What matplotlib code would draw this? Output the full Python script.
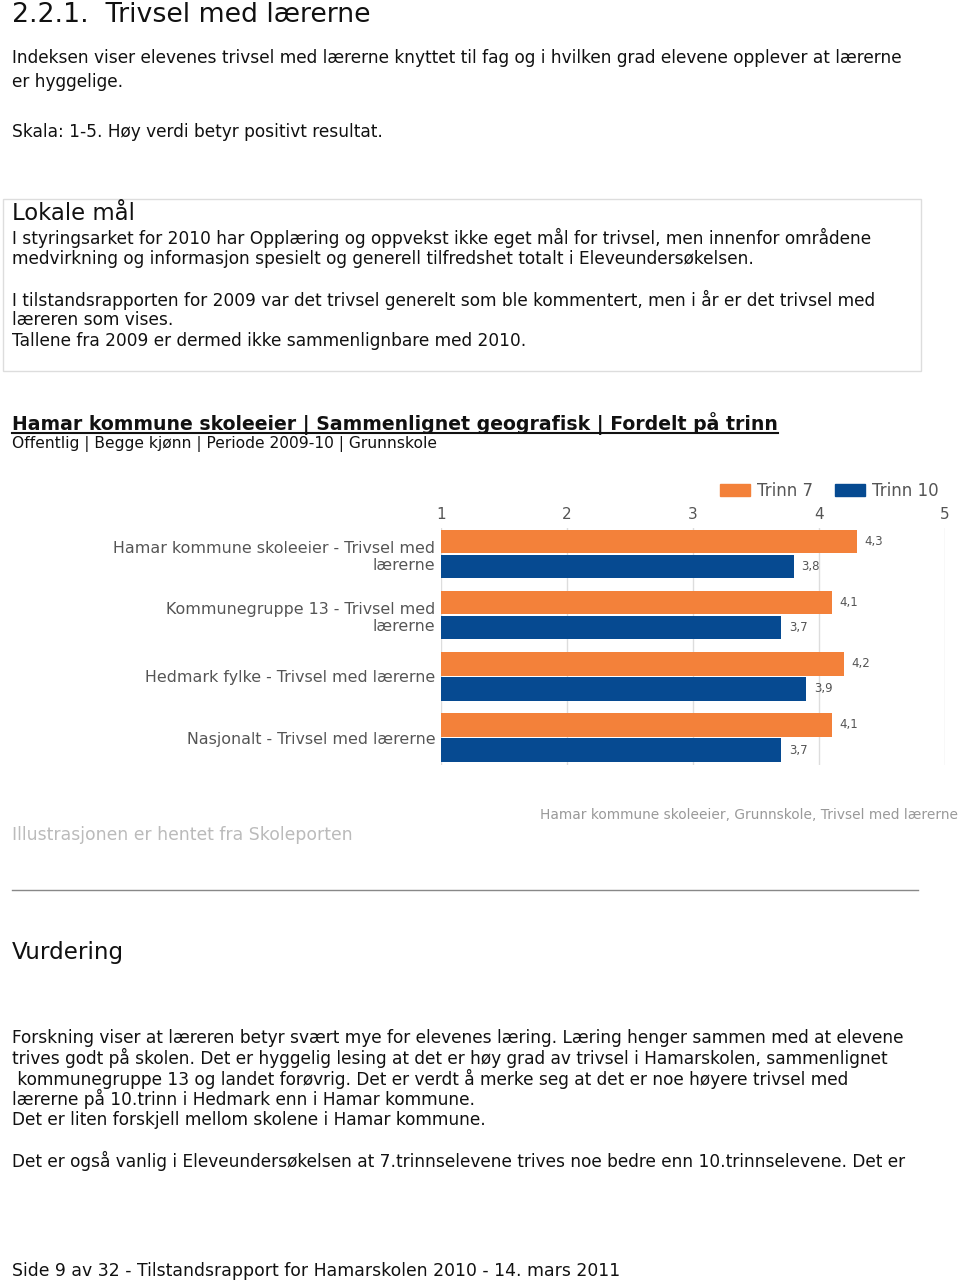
import matplotlib
matplotlib.use("Agg")
import matplotlib.pyplot as plt
from matplotlib.patches import Rectangle, Patch
from matplotlib.lines import Line2D
import numpy as np

W, H = 960, 1281

# chart data
categories = [
    "Hamar kommune skoleeier - Trivsel med\nlærerne",
    "Kommunegruppe 13 - Trivsel med\nlærerne",
    "Hedmark fylke - Trivsel med lærerne",
    "Nasjonalt - Trivsel med lærerne",
]
trinn7 = [4.3, 4.1, 4.2, 4.1]
trinn10 = [3.8, 3.7, 3.9, 3.7]
series_names = ["Trinn 7", "Trinn 10"]
x_ticks = [1, 2, 3, 4, 5]

ORANGE = "#F3813A"
BLUE = "#064A91"
GRAY_TXT = "#555555"

plt.rcParams["font.family"] = ["DejaVu Sans"]

fig = plt.figure(figsize=(W / 100, H / 100), dpi=100)


def put(x, y, s, **kw):
    kw.setdefault("va", "center")
    kw.setdefault("ha", "left")
    return fig.text(x / W, 1 - y / H, s, **kw)


body = dict(fontsize=12.25, color="#111111")

# page text above the chart
put(12, 15, "2.2.1.  Trivsel med lærerne", fontsize=19.3, color="#111111")
put(12, 58, "Indeksen viser elevenes trivsel med lærerne knyttet til fag og i hvilken grad elevene opplever at lærerne", **body)
put(12, 82, "er hyggelige.", **body)
put(12, 132, "Skala: 1-5. Høy verdi betyr positivt resultat.", **body)

fig.add_artist(Rectangle((3 / W, 1 - 371 / H), 918 / W, 172 / H, transform=fig.transFigure,
                         fill=False, edgecolor="#dddddd", lw=1))
put(12, 214, "Lokale mål", fontsize=16.4, color="#111111")
box_lines = [
    (238, "I styringsarket for 2010 har Opplæring og oppvekst ikke eget mål for trivsel, men innenfor områdene"),
    (259, "medvirkning og informasjon spesielt og generell tilfredshet totalt i Eleveundersøkelsen."),
    (300, "I tilstandsrapporten for 2009 var det trivsel generelt som ble kommentert, men i år er det trivsel med"),
    (320, "læreren som vises."),
    (341, "Tallene fra 2009 er dermed ikke sammenlignbare med 2010."),
]
for y, s in box_lines:
    put(12, y, s, **body)

head = put(12, 424, "Hamar kommune skoleeier | Sammenlignet geografisk | Fordelt på trinn",
           fontsize=13.6, fontweight="bold", color="#111111")
put(12, 444, "Offentlig | Begge kjønn | Periode 2009-10 | Grunnskole", fontsize=11.2, color="#111111")

# chart
ax = fig.add_axes([441 / W, 1 - 765 / H, 504 / W, 237 / H])
y = np.arange(len(categories))
h = 0.38
off = 0.205
b7 = ax.barh(y - off, np.array(trinn7) - 1, left=1, height=h, color=ORANGE, zorder=2)
b10 = ax.barh(y + off, np.array(trinn10) - 1, left=1, height=h, color=BLUE, zorder=2)
for bars, vals in [(b7, trinn7), (b10, trinn10)]:
    for r, v in zip(bars, vals):
        ax.text(v + 0.06, r.get_y() + r.get_height() / 2, f"{v:.1f}".replace(".", ","),
                va="center", ha="left", fontsize=8.5, color=GRAY_TXT)

ax.set_xlim(1, 5)
ax.set_ylim(3.45, -0.43)
ax.xaxis.tick_top()
ax.set_xticks(x_ticks)
ax.set_xticklabels([str(t) for t in x_ticks])
ax.tick_params(axis="x", length=0, pad=4, labelsize=11, labelcolor=GRAY_TXT)
ax.set_yticks(y)
ax.set_yticklabels(categories)
ax.tick_params(axis="y", length=0, pad=4, labelsize=11.4, labelcolor=GRAY_TXT)
ax.grid(axis="x", color="#dddddd", lw=1, zorder=0)
ax.set_axisbelow(True)
for sp in ax.spines.values():
    sp.set_visible(False)

handles = [Patch(color=ORANGE), Patch(color=BLUE)]
fig.legend(handles, series_names, loc="center left", bbox_to_anchor=(712 / W, 1 - 491 / H),
           ncol=2, frameon=False, fontsize=12, labelcolor=GRAY_TXT, handlelength=1.8,
           handleheight=0.72, handletextpad=0.42, columnspacing=1.3, borderpad=0)

put(540, 815, "Hamar kommune skoleeier, Grunnskole, Trivsel med lærerne", fontsize=9.9, color="#999999")
put(12, 835, "Illustrasjonen er hentet fra Skoleporten", fontsize=12.4, color="#bbbbbb")

fig.add_artist(Line2D([12 / W, 918 / W], [1 - 890 / H] * 2, transform=fig.transFigure,
                      color="#888888", lw=1))

put(12, 953, "Vurdering", fontsize=16.6, color="#111111")
vurdering = [
    (1038, "Forskning viser at læreren betyr svært mye for elevenes læring. Læring henger sammen med at elevene"),
    (1058, "trives godt på skolen. Det er hyggelig lesing at det er høy grad av trivsel i Hamarskolen, sammenlignet"),
    (1079, " kommunegruppe 13 og landet forøvrig. Det er verdt å merke seg at det er noe høyere trivsel med"),
    (1099, "lærerne på 10.trinn i Hedmark enn i Hamar kommune."),
    (1120, "Det er liten forskjell mellom skolene i Hamar kommune."),
    (1161, "Det er også vanlig i Eleveundersøkelsen at 7.trinnselevene trives noe bedre enn 10.trinnselevene. Det er"),
]
for yy, s in vurdering:
    put(12, yy, s, **body)

put(12, 1271, "Side 9 av 32 - Tilstandsrapport for Hamarskolen 2010 - 14. mars 2011", fontsize=12.4,
    color="#111111")

# underline for the chart heading
fig.canvas.draw()
bb = head.get_window_extent().transformed(fig.transFigure.inverted())
fig.add_artist(Line2D([bb.x0, bb.x1], [1 - 433 / H] * 2, transform=fig.transFigure,
                      color="#111111", lw=1.5))

fig.savefig("out.png", dpi=100)
